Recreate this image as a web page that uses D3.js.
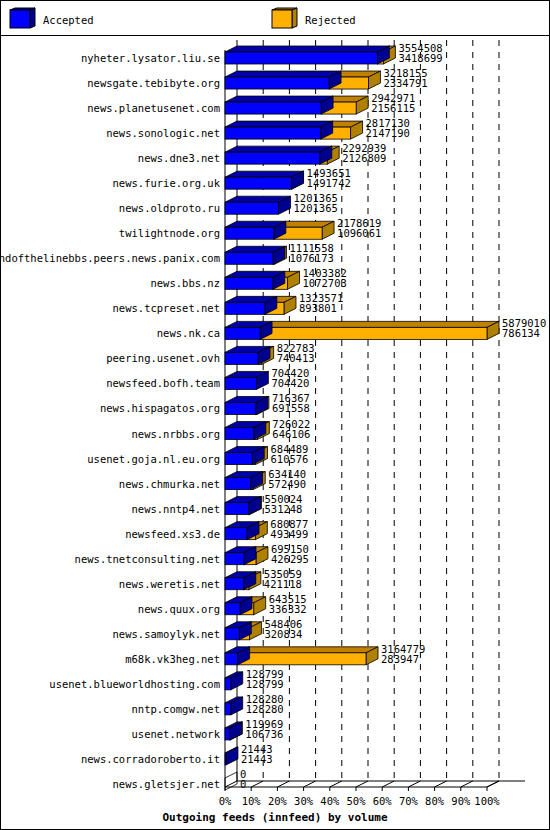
<!DOCTYPE html><html><head><meta charset="utf-8">
<script src="https://cdn.jsdelivr.net/npm/d3@7"></script>
<style>body{margin:0;background:#fff}text{font-family:"DejaVu Sans Mono",monospace;font-size:10.5px}</style>
</head><body><svg id="c" width="550" height="830"></svg><script>
const hosts=["nyheter.lysator.liu.se","newsgate.tebibyte.org","news.planetusenet.com","news.sonologic.net","news.dne3.net","news.furie.org.uk","news.oldproto.ru","twilightnode.org","endofthelinebbs.peers.news.panix.com","news.bbs.nz","news.tcpreset.net","news.nk.ca","peering.usenet.ovh","newsfeed.bofh.team","news.hispagatos.org","news.nrbbs.org","usenet.goja.nl.eu.org","news.chmurka.net","news.nntp4.net","newsfeed.xs3.de","news.tnetconsulting.net","news.weretis.net","news.quux.org","news.samoylyk.net","m68k.vk3heg.net","usenet.blueworldhosting.com","nntp.comgw.net","usenet.network","news.corradoroberto.it","news.gletsjer.net"];
const offered=[3554508,3218155,2942971,2817130,2292939,1493651,1201365,2178619,1111558,1403382,1323571,5879010,822783,704420,716367,726022,684489,634140,550024,680877,695150,535059,643515,548406,3164779,128799,128280,119969,21443,0];
const accepted=[3418699,2334791,2156115,2147190,2126809,1491742,1201365,1096061,1076173,1072703,893801,786134,740413,704420,691558,646106,610576,572490,531248,493499,426295,421118,336332,320834,283947,128799,128280,106736,21443,0];
const ticks=[0,10,20,30,40,50,60,70,80,90,100];
const svg=d3.select("#c");
const DX=12,DY=-6,H=12;
const x=d3.scaleLinear().domain([0,d3.max(offered)]).range([225,487]);
const xp=d3.scaleLinear().domain([0,100]).range([225,487]);
const y=d3.scalePoint().domain(hosts).range([58,784]);
svg.append("rect").attr("x",0.5).attr("y",0.5).attr("width",549).attr("height",829).attr("fill","none").attr("stroke","#000");
svg.append("line").attr("x1",0).attr("x2",550).attr("y1",35.5).attr("y2",35.5).attr("stroke","#000");
const C={a:["#0000ff","#0000a8","#000090"],r:["#ffb000","#c08000","#b08000"]};
function box(g,x0,x1,yc,c){
  const t=yc-H/2,b=yc+H/2;
  if(x1<x0)return;
  g.append("polygon").attr("points",[[x0,t],[x0+DX,t+DY],[x1+DX,t+DY],[x1,t]].join(" ")).attr("fill",c[1]).attr("stroke","#000").attr("stroke-width",0.8);
  g.append("polygon").attr("points",[[x1,t],[x1+DX,t+DY],[x1+DX,b+DY],[x1,b]].join(" ")).attr("fill",c[2]).attr("stroke","#000").attr("stroke-width",0.8);
  g.append("rect").attr("x",x0).attr("y",t).attr("width",x1-x0).attr("height",H).attr("fill",c[0]).attr("stroke","#000").attr("stroke-width",0.8);
}
const lg=svg.append("g");
[["Accepted",10,C.a],["Rejected",272,C.r]].forEach(([n,lx,c])=>{
  lg.append("polygon").attr("points",[[lx,10],[lx+5,8],[lx+25,8],[lx+20,10]].join(" ")).attr("fill",c[1]).attr("stroke","#000");
  lg.append("polygon").attr("points",[[lx+20,10],[lx+25,8],[lx+25,26],[lx+20,28]].join(" ")).attr("fill",c[2]).attr("stroke","#000");
  lg.append("rect").attr("x",lx).attr("y",10).attr("width",20).attr("height",18).attr("fill",c[0]).attr("stroke","#000");
  lg.append("text").attr("x",lx+33).attr("y",24).text(n);
});
const topY=40,floorF=787,floorB=floorF+DY;
svg.append("line").attr("x1",225+DX).attr("x2",225+DX).attr("y1",topY).attr("y2",floorB).attr("stroke","#000");
svg.append("line").attr("x1",225).attr("x2",225).attr("y1",topY+10).attr("y2",floorF).attr("stroke","#000");
ticks.slice(1).forEach(t=>svg.append("line").attr("x1",xp(t)+DX).attr("x2",xp(t)+DX).attr("y1",topY).attr("y2",floorB).attr("stroke","#000").attr("stroke-dasharray","6,6"));
svg.append("line").attr("x1",225).attr("x2",xp(100)).attr("y1",floorF).attr("y2",floorF).attr("stroke","#000");
svg.append("line").attr("x1",225+DX).attr("x2",xp(100)+DX+26).attr("y1",floorB).attr("y2",floorB).attr("stroke","#000");
svg.append("line").attr("x1",xp(100)).attr("x2",xp(100)+DX).attr("y1",floorF).attr("y2",floorB).attr("stroke","#000");
ticks.forEach(t=>{
  svg.append("line").attr("x1",xp(t)).attr("x2",xp(t)+DX).attr("y1",floorF).attr("y2",floorB).attr("stroke","#000");
  svg.append("line").attr("x1",xp(t)).attr("x2",xp(t)).attr("y1",floorF).attr("y2",floorF+4).attr("stroke","#000");
  svg.append("text").attr("x",xp(t)).attr("y",805).attr("text-anchor","middle").text(t+"%");
});
const bg=svg.append("g");
hosts.forEach((h,i)=>{
  const yc=y(h);
  bg.append("text").attr("x",220).attr("y",yc+4).attr("text-anchor","end").text(h);
  const xa=x(accepted[i]),xo=x(offered[i]);
  if(offered[i]>0){
    if(offered[i]>accepted[i]) box(bg,xa,xo,yc,C.r);
    box(bg,225,xa,yc,C.a);
  } else {
    bg.append("polygon").attr("points",[[225,yc-6],[237,yc-12],[237,yc],[225,yc+6]].join(" ")).attr("fill","none").attr("stroke","#000").attr("stroke-width",0.8);
  }
  const tx=xo+DX+3;
  bg.append("text").attr("x",tx).attr("y",yc-6).text(offered[i]);
  bg.append("text").attr("x",tx).attr("y",yc+4).text(accepted[i]);
});
svg.append("text").attr("x",275).attr("y",821).attr("text-anchor","middle").attr("font-weight","bold").style("font-size","11px").text("Outgoing feeds (innfeed) by volume");
</script></body></html>
